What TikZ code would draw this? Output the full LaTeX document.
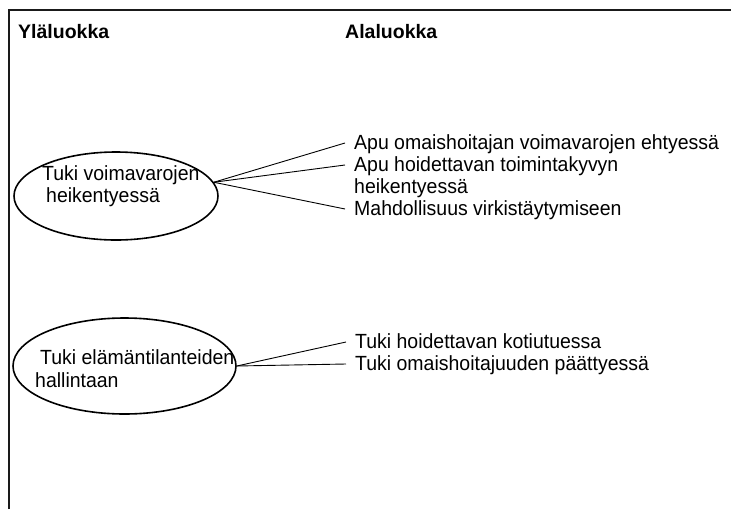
\documentclass[tikz,border=0pt]{standalone}
\usepackage{fontspec}
\setmainfont{Liberation Sans}[FakeStretch=0.95]
\newfontfamily\headfont{Liberation Sans}
\usepackage{xcolor}
\usetikzlibrary{shapes.geometric}
\definecolor{framegray}{HTML}{1a1a1a}

\begin{document}
\begin{tikzpicture}[x=1pt, y=-1pt,
  classbox/.style={draw, ellipse, line width=1.6pt, inner sep=0pt},
  txt/.style={anchor=base west, inner xsep=9pt, inner ysep=0pt,
    text height=15pt, text depth=3pt, font=\fontsize{20.5}{22}\selectfont},
  headtxt/.style={txt, font=\headfont\fontsize{19.5}{22}\selectfont\bfseries},
  link/.style={line width=0.9pt}]
  \useasboundingbox (0,0) rectangle (731,509);

  % Frame
  \draw[framegray, line width=1.2pt] (9,509) -- (9,10) -- (731,10);

  % Column headings
  \node[headtxt] (ylaluokka) at (9,38) {Yläluokka};
  \node[headtxt] (alaluokka) at (336,38) {Alaluokka};

  % First upper class
  \node[classbox, minimum width=204pt, minimum height=88pt] (voima) at (116,196) {};
  \node[txt] (voimaA) at (33,180) {Tuki voimavarojen};
  \node[txt] (voimaB) at (37,202) {heikentyessä};

  \node[txt] (ehty) at (345,149) {Apu omaishoitajan voimavarojen ehtyessä};
  \node[txt] (toiminta) at (345,171) {Apu hoidettavan toimintakyvyn};
  \node[txt] (toimintaB) at (345,193) {heikentyessä};
  \node[txt] (virkistys) at (345,215) {Mahdollisuus virkistäytymiseen};

  \draw[link] (voima.8) -- (ehty.west);
  \draw[link] (voima.8) -- (toiminta.west);
  \draw[link] (voima.8) -- (virkistys.west);

  % Second upper class
  \node[classbox, minimum width=223pt, minimum height=96pt] (elama) at (124.5,366) {};
  \node[txt] (elamaA) at (31,364) {Tuki elämäntilanteiden};
  \node[txt] (elamaB) at (26,387) {hallintaan};

  \node[txt] (kotiutus) at (346,348) {Tuki hoidettavan kotiutuessa};
  \node[txt] (paattyminen) at (346,370) {Tuki omaishoitajuuden päättyessä};

  \draw[link] (elama.east) -- (kotiutus.west);
  \draw[link] (elama.east) -- (paattyminen.west);
\end{tikzpicture}
\end{document}
